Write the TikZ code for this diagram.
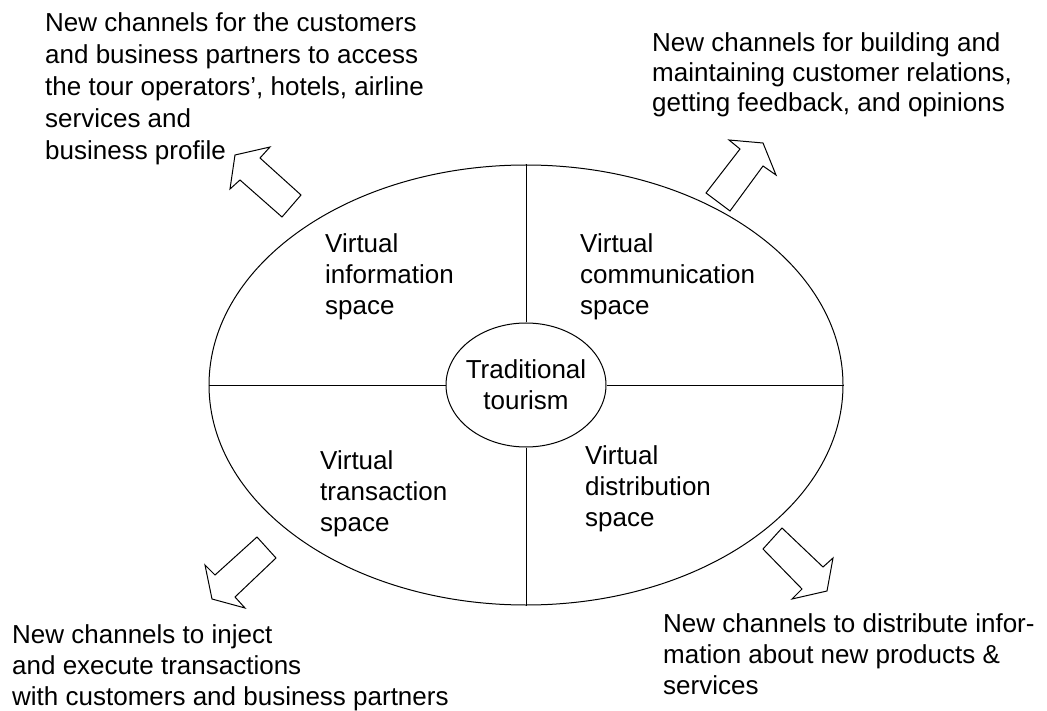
\documentclass[tikz,border=0pt]{standalone}
\usepackage{fontspec}
\setmainfont{Liberation Sans}
\usetikzlibrary{shapes.geometric}
\begin{document}
\begin{tikzpicture}[x=1pt,y=-1pt,
  lbl/.style={font=\fontsize{26}{31}\selectfont, align=left, anchor=north west, inner sep=0pt},
  ctr/.style={font=\fontsize{26}{31}\selectfont, align=center, inner sep=0pt},
  frame/.style={draw, line width=1pt},
  blockarrow/.style={draw, line width=1pt, fill=white, line join=miter}]
\useasboundingbox (0,0) rectangle (1047,711);
% ellipses
\node[ellipse, frame, minimum width=634, minimum height=440, inner sep=0pt] (E) at (526,385) {};
\node[ellipse, frame, fill=white, minimum width=160, minimum height=124, inner sep=0pt] (T) at (526,385) {};
\node[ctr] (Tt) at (T.center) {Traditional\\tourism};
% dividing lines
\draw[frame] (E.west) -- (T.west);
\draw[frame] (T.east) -- (E.east);
\draw[frame] (E.north) -- (T.north);
\draw[frame] (T.south) -- (E.south);
% quadrant labels
\node[lbl] (vi) at (325,233) {Virtual\\information\\space};
\node[lbl] (vc) at (580,233) {Virtual\\communication\\space};
\node[lbl] (vt) at (320,450) {Virtual\\transaction\\space};
\node[lbl] (vd) at (585,445) {Virtual\\distribution\\space};
% block arrows
\draw[blockarrow] (235,155) -- (230,189) -- (240,180) -- (282,217) -- (301,195) -- (260,158) -- (270,147) -- cycle;
\draw[blockarrow] (729,140) -- (763,143) -- (776,175) -- (763,166) -- (730,211) -- (706,193) -- (740,149) -- cycle;
\draw[blockarrow] (257,537) -- (276,558) -- (235,597) -- (245,608) -- (212,599) -- (205,565) -- (215,575) -- cycle;
\draw[blockarrow] (782,528) -- (763,549) -- (802,589) -- (792,599) -- (827,591) -- (833,558) -- (823,567) -- cycle;
% outer texts
\node[lbl, font=\fontsize{26}{32}\selectfont] (tl) at (45,12) {New channels for the customers\\and business partners to access\\the tour operators’, hotels, airline\\services and\\business profile};
\node[lbl, font=\fontsize{26}{30}\selectfont] (tr) at (652,32) {New channels for building and\\maintaining customer relations,\\getting feedback, and opinions};
\node[lbl] (bl) at (12,624) {New channels to inject\\and execute transactions\\with customers and business partners};
\node[lbl] (br) at (663,613) {New channels to distribute infor-\\mation about new products \&\\services};
\end{tikzpicture}
\end{document}
